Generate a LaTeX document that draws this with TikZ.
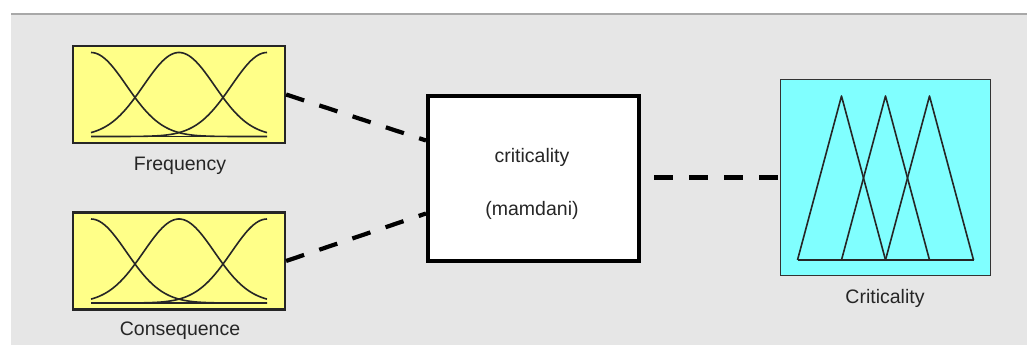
\documentclass[tikz,border=0pt]{standalone}
\usepackage{fontspec}
\setmainfont{Liberation Sans}
\usetikzlibrary{calc}
\definecolor{bgray}{HTML}{E6E6E6}
\definecolor{topline}{HTML}{A8A8A8}
\definecolor{fyellow}{HTML}{FFFF88}
\definecolor{fcyan}{HTML}{80FFFF}
\definecolor{tgray}{HTML}{262626}
\tikzset{
  inbox/.style={draw=black!85, line width=2.2pt, fill=fyellow, minimum width=212pt, minimum height=97pt, inner sep=0pt},
  rulebox/.style={draw=black, line width=4pt, fill=white, minimum width=211pt, minimum height=165pt, inner sep=0pt},
  outbox/.style={draw=black!80, line width=1.8pt, fill=fcyan, minimum width=210pt, minimum height=196pt, inner sep=0pt},
  lbl/.style={font=\fontsize{19.5}{22}\selectfont, text=tgray, inner sep=0pt},
  conn/.style={line width=4.2pt, dash pattern=on 19pt off 16pt, line cap=butt},
  mf/.style={line width=1.6pt, draw=black!85},
  bells/.pic={
    \draw[mf] (-88,42) -- (88,42);
    \draw[mf] plot[domain=-88:88, samples=80] (\x,{42-84*exp(-(((\x+88)/50.2)^2))});
    \draw[mf] plot[domain=-88:88, samples=80] (\x,{42-84*exp(-((\x/50.2)^2))});
    \draw[mf] plot[domain=-88:88, samples=80] (\x,{42-84*exp(-(((\x-88)/50.2)^2))});
  },
  tris/.pic={
    \draw[mf, line join=round] (-88,82.5) -- (88,82.5);
    \draw[mf, line join=round] (-88,82.5) -- (-44,-81.5) -- (0,82.5);
    \draw[mf, line join=round] (-44,82.5) -- (0,-81.5) -- (44,82.5);
    \draw[mf, line join=round] (0,82.5) -- (44,-81.5) -- (88,82.5);
  }
}
\begin{document}
\begin{tikzpicture}[x=1pt, y=-1pt]
\useasboundingbox (0,0) rectangle (1027,345);
\fill[white] (0,0) rectangle (1027,345);
\fill[bgray] (11,15) rectangle (1027,345);
\draw[topline, line width=1.5pt] (11,14) -- (1027,14);

\node[inbox] (freq) at (179,94.5) {};
\node[inbox] (cons) at (179,261) {};
\node[rulebox] (mid) at (533.5,178.5) {};
\node[outbox] (crit) at (885.5,177.5) {};

\pic at (freq.center) {bells};
\pic at (cons.center) {bells};
\pic at (crit.center) {tris};

\node[lbl] (freqlbl) at (180,166) {Frequency};
\node[lbl] (conslbl) at (180,331) {Consequence};
\node[lbl] (critlbl) at (885,298) {Criticality};
\node[lbl] (midname) at (532,157) {criticality};
\node[lbl] (midtype) at (532,210) {(mamdani)};

\coordinate (in1) at ($(mid.west)+(0,-38)$);
\coordinate (in2) at ($(mid.west)+(0,35)$);
\coordinate (out1) at ($(mid.east)+(13,-1)$);

\draw[conn] (freq.east) -- (in1);
\draw[conn] (cons.east) -- (in2);
\draw[conn] (out1) -- (crit.west);
\end{tikzpicture}
\end{document}
